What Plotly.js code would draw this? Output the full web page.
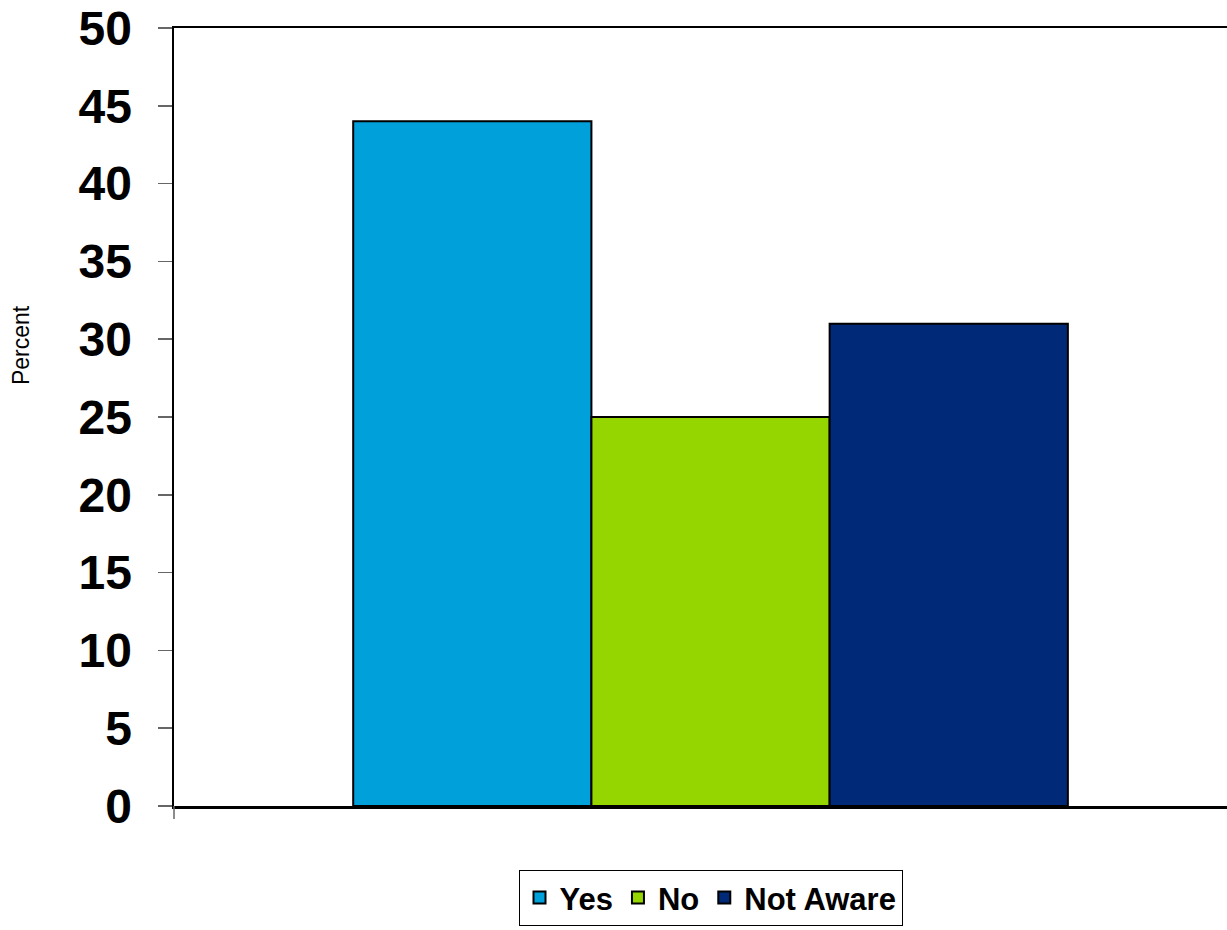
<!DOCTYPE html>
<html>
<head>
<meta charset="utf-8">
<script src="https://cdn.plot.ly/plotly-3.0.1.min.js"></script>
<style>html,body{margin:0;padding:0;background:#fff;}#chart{width:1227px;height:930px;}</style>
</head>
<body>
<div id="chart"></div>
<script>
var categories = ['Awareness'];
var seriesNames = ['Yes', 'No', 'Not Aware'];
var yesValues = [44];
var noValues = [25];
var notAwareValues = [31];
var yTickValues = [0, 5, 10, 15, 20, 25, 30, 35, 40, 45, 50];
var yAxisLabel = 'Percent';

var seriesValues = [yesValues, noValues, notAwareValues];
var colors = ['#00A0DA', '#95D600', '#002A78'];

var traces = seriesNames.map(function (name, i) {
  return {
    type: 'bar',
    name: name,
    x: categories,
    y: seriesValues[i],
    marker: { color: colors[i], line: { color: '#000000', width: 2 } },
    hoverinfo: 'none'
  };
});

var fontFam = 'Arial, "Liberation Sans", sans-serif';

var layout = {
  width: 1227,
  height: 930,
  margin: { l: 174, r: 0, t: 28, b: 124, pad: 0 },
  paper_bgcolor: '#ffffff',
  plot_bgcolor: '#ffffff',
  barmode: 'group',
  bargap: 0.334,
  bargroupgap: 0,
  font: { family: fontFam, color: '#000000' },
  showlegend: true,
  legend: {
    orientation: 'h',
    x: 0.5095, xanchor: 'center',
    y: -0.082, yanchor: 'top',
    bordercolor: '#000000', borderwidth: 1,
    bgcolor: '#ffffff',
    font: { size: 31, family: fontFam, weight: 'bold', color: '#000000' },
    itemsizing: 'constant'
  },
  xaxis: {
    type: 'category',
    range: [-0.5, 0.4813],
    showticklabels: false,
    ticks: '',
    showgrid: false,
    zeroline: false,
    showline: true,
    linecolor: '#000000',
    linewidth: 2.5,
    mirror: true,
    fixedrange: true
  },
  yaxis: {
    range: [0, 50],
    tickvals: yTickValues,
    ticks: 'outside',
    ticklen: 14,
    tickwidth: 1.5,
    tickcolor: '#666666',
    showgrid: false,
    zeroline: false,
    showline: true,
    linecolor: '#000000',
    linewidth: 2.5,
    ticklabelstandoff: 16,
    tickfont: { size: 48, family: fontFam, weight: 'bold', color: '#000000' },
    fixedrange: true
  },
  annotations: [
    { text: yAxisLabel, xref: 'paper', yref: 'paper', x: -0.1453, y: 0.5925,
      xanchor: 'center', yanchor: 'middle', textangle: -90, showarrow: false,
      font: { size: 23, family: fontFam, color: '#000000' } }
  ],
  shapes: [
    { type: 'line', xref: 'paper', yref: 'paper', x0: 0, x1: 0, y0: 0, y1: -13 / 778,
      line: { color: '#666666', width: 1.5 } }
  ]
};

Plotly.newPlot('chart', traces, layout, { displayModeBar: false, staticPlot: true });
</script>
</body>
</html>
